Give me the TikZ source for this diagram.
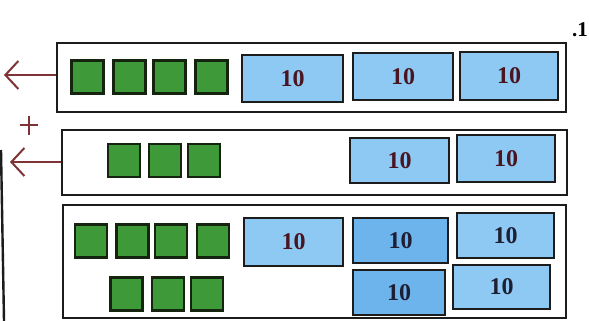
\documentclass[tikz,border=0pt]{standalone}
\usepackage{fontspec}
\setmainfont{Liberation Serif}
\usetikzlibrary{arrows.meta}
\definecolor{bfill}{HTML}{8DC9F2}
\definecolor{bfilld}{HTML}{6DB3EC}
\definecolor{gfill}{HTML}{3E9A38}
\definecolor{gline}{HTML}{14240F}
\definecolor{maroon}{HTML}{4A1520}
\definecolor{navyk}{HTML}{1E1E34}
\definecolor{arrc}{HTML}{7E3436}
\definecolor{ink}{HTML}{1C1C1C}
\tikzset{
  rowbox/.style={draw=ink, line width=2.8pt, fill=white, inner sep=0pt},
  gsq/.style={draw=gline, line width=2.2pt, fill=gfill, inner sep=0pt, minimum width=32pt, minimum height=33pt},
  bbox/.style={draw=ink, line width=2.5pt, fill=bfill, inner sep=0pt, text=maroon,
    font=\fontsize{24}{24}\selectfont\bfseries},
  arr/.style={draw=arrc, line width=2pt, -{Straight Barb[length=13pt,width=28pt,line width=2pt]}},
}
\begin{document}
\begin{tikzpicture}[x=1pt,y=-1pt]
\useasboundingbox (0,0) rectangle (589,321);
\fill[white] (0,0) rectangle (589,321);
% left margin line
\coordinate (lt) at (1,150);
\coordinate (lb) at (4,321);
\draw[ink, line width=2.4pt] (lt) -- (lb);
% exercise number
\node[anchor=base east, inner sep=0pt, font=\fontsize{21}{21}\selectfont\bfseries] (num) at (588,37) {.1};
% row boxes
\node[rowbox, minimum width=509pt, minimum height=69pt] (r1) at (311.5,77.5) {};
\node[rowbox, minimum width=505pt, minimum height=65pt] (r2) at (314.5,162.5) {};
\node[rowbox, minimum width=503pt, minimum height=113pt] (r3) at (314.5,261.5) {};
% row 1
\node[gsq] (g11) at (87.5,77) {};
\node[gsq] (g12) at (129.5,77) {};
\node[gsq] (g13) at (169.5,77) {};
\node[gsq] (g14) at (211.5,77) {};
\node[bbox, minimum width=101pt, minimum height=47pt] (b11) at (292.5,78.5) {10};
\node[bbox, minimum width=100pt, minimum height=47pt] (b12) at (403,76.5) {10};
\node[bbox, minimum width=98pt, minimum height=48pt] (b13) at (509,76) {10};
% row 2
\node[gsq] (g21) at (124,160.5) {};
\node[gsq] (g22) at (165,160.5) {};
\node[gsq] (g23) at (204,160.5) {};
\node[bbox, minimum width=99pt, minimum height=45pt] (b21) at (399.5,160.5) {10};
\node[bbox, minimum width=98pt, minimum height=47pt] (b22) at (506,158.5) {10};
% row 3
\node[gsq] (g31) at (91,241) {};
\node[gsq] (g32) at (132.5,241) {};
\node[gsq] (g33) at (171,241) {};
\node[gsq] (g34) at (213,241) {};
\node[gsq] (g35) at (126.5,294) {};
\node[gsq] (g36) at (168,294) {};
\node[gsq] (g37) at (207,294) {};
\node[bbox, minimum width=99pt, minimum height=48pt] (b31) at (293.5,242) {10};
\node[bbox, fill=bfilld, text=navyk, minimum width=95pt, minimum height=45pt] (b32) at (400.5,240.5) {10};
\node[bbox, text=navyk, minimum width=97pt, minimum height=45pt] (b33) at (505.5,235.5) {10};
\node[bbox, fill=bfilld, text=navyk, minimum width=92pt, minimum height=45pt] (b34) at (399,292.5) {10};
\node[bbox, text=navyk, minimum width=97pt, minimum height=44pt] (b35) at (501.5,287) {10};
% arrows and plus
\coordinate (a1) at (4,75);
\coordinate (a2) at (10,162);
\draw[arr] (r1.west |- a1) -- (a1);
\draw[arr] (r2.west |- a2) -- (a2);
\coordinate (pl) at (20,125);
\coordinate (pr) at (38,125);
\coordinate (pt) at (29,116);
\coordinate (pb) at (29,135);
\draw[arrc, line width=1.6pt] (pl) -- (pr) (pt) -- (pb);
\end{tikzpicture}
\end{document}
